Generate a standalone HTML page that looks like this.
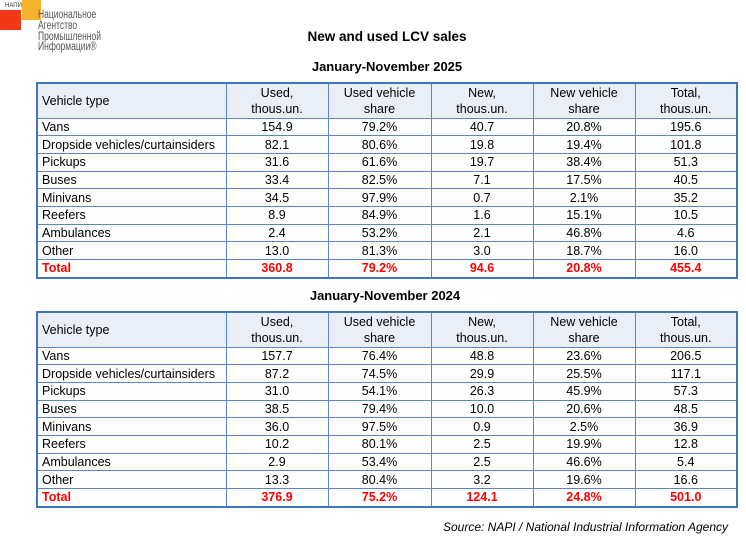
<!DOCTYPE html>
<html><head><meta charset="utf-8">
<style>
html,body{margin:0;padding:0;background:#fff;}
body{width:746px;height:539px;position:relative;overflow:hidden;font-family:"Liberation Sans",Arial,sans-serif;}
.t{position:absolute;left:0;width:746px;text-align:center;font-weight:bold;color:#000;}
table{position:absolute;left:36px;width:700px;border-collapse:collapse;table-layout:fixed;border:2px solid #4176b9;font-size:12.5px;color:#000;}
td{border:1px solid #5a88c4;padding:0;text-align:center;height:16.7px;line-height:14px;white-space:nowrap;overflow:hidden;}
td:first-child{text-align:left;padding-left:4px;}
tr.h td{background:#e9eef7;height:33.5px;line-height:16px;}
tr.tot td{color:#ff0000;font-weight:bold;}
.logo-r{position:absolute;left:0;top:10px;width:21px;height:20px;background:#f03a17;}
.logo-o{position:absolute;left:22px;top:0;width:19px;height:20px;background:#f7b32b;}
.logo-s{position:absolute;left:5px;top:3px;font-size:6px;color:#333;}
.logo-t{position:absolute;left:38px;top:10px;font-size:11.5px;line-height:10.8px;color:#555;transform:scaleX(0.74);transform-origin:0 0;font-family:"Liberation Sans","Noto Sans CJK SC",sans-serif;}
.src{position:absolute;right:18px;top:520px;font-size:12px;font-style:italic;color:#000;}
</style></head><body>
<div class="logo-r"></div>
<div class="logo-o"></div>
<div class="logo-s">НАПИ</div>
<div class="logo-t">Национальное<br>Агентство<br>Промышленной<br>Информации®</div>

<div class="t" style="top:29px;font-size:13.5px;left:14px;">New and used LCV sales</div>
<div class="t" style="top:59px;font-size:13px;left:14px;">January-November 2025</div>

<table style="top:82px;">
<colgroup><col style="width:189px"><col style="width:102px"><col style="width:103px"><col style="width:102px"><col style="width:102px"><col style="width:102px"></colgroup>
<tr class="h"><td>Vehicle type</td><td>Used,<br>thous.un.</td><td>Used vehicle<br>share</td><td>New,<br>thous.un.</td><td>New vehicle<br>share</td><td>Total,<br>thous.un.</td></tr>
<tr><td>Vans</td><td>154.9</td><td>79.2%</td><td>40.7</td><td>20.8%</td><td>195.6</td></tr>
<tr><td>Dropside vehicles/curtainsiders</td><td>82.1</td><td>80.6%</td><td>19.8</td><td>19.4%</td><td>101.8</td></tr>
<tr><td>Pickups</td><td>31.6</td><td>61.6%</td><td>19.7</td><td>38.4%</td><td>51.3</td></tr>
<tr><td>Buses</td><td>33.4</td><td>82.5%</td><td>7.1</td><td>17.5%</td><td>40.5</td></tr>
<tr><td>Minivans</td><td>34.5</td><td>97.9%</td><td>0.7</td><td>2.1%</td><td>35.2</td></tr>
<tr><td>Reefers</td><td>8.9</td><td>84.9%</td><td>1.6</td><td>15.1%</td><td>10.5</td></tr>
<tr><td>Ambulances</td><td>2.4</td><td>53.2%</td><td>2.1</td><td>46.8%</td><td>4.6</td></tr>
<tr><td>Other</td><td>13.0</td><td>81.3%</td><td>3.0</td><td>18.7%</td><td>16.0</td></tr>
<tr class="tot"><td>Total</td><td>360.8</td><td>79.2%</td><td>94.6</td><td>20.8%</td><td>455.4</td></tr>
</table>

<div class="t" style="top:288px;font-size:13px;left:12px;">January-November 2024</div>

<table style="top:311px;">
<colgroup><col style="width:189px"><col style="width:102px"><col style="width:103px"><col style="width:102px"><col style="width:102px"><col style="width:102px"></colgroup>
<tr class="h"><td>Vehicle type</td><td>Used,<br>thous.un.</td><td>Used vehicle<br>share</td><td>New,<br>thous.un.</td><td>New vehicle<br>share</td><td>Total,<br>thous.un.</td></tr>
<tr><td>Vans</td><td>157.7</td><td>76.4%</td><td>48.8</td><td>23.6%</td><td>206.5</td></tr>
<tr><td>Dropside vehicles/curtainsiders</td><td>87.2</td><td>74.5%</td><td>29.9</td><td>25.5%</td><td>117.1</td></tr>
<tr><td>Pickups</td><td>31.0</td><td>54.1%</td><td>26.3</td><td>45.9%</td><td>57.3</td></tr>
<tr><td>Buses</td><td>38.5</td><td>79.4%</td><td>10.0</td><td>20.6%</td><td>48.5</td></tr>
<tr><td>Minivans</td><td>36.0</td><td>97.5%</td><td>0.9</td><td>2.5%</td><td>36.9</td></tr>
<tr><td>Reefers</td><td>10.2</td><td>80.1%</td><td>2.5</td><td>19.9%</td><td>12.8</td></tr>
<tr><td>Ambulances</td><td>2.9</td><td>53.4%</td><td>2.5</td><td>46.6%</td><td>5.4</td></tr>
<tr><td>Other</td><td>13.3</td><td>80.4%</td><td>3.2</td><td>19.6%</td><td>16.6</td></tr>
<tr class="tot"><td>Total</td><td>376.9</td><td>75.2%</td><td>124.1</td><td>24.8%</td><td>501.0</td></tr>
</table>

<div class="src">Source: NAPI / National Industrial Information Agency</div>
</body></html>
